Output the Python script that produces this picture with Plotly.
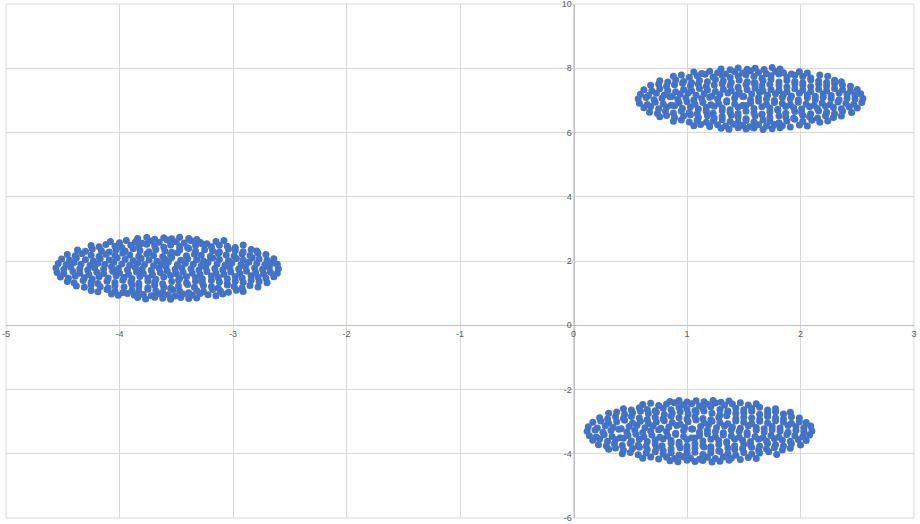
import plotly.graph_objects as go

# ---- Cluster A (left, around x=-3.6, y=1.8) : rows of points ----
cluster_a_x = [
    [-3.84,-3.77,-3.69,-3.62,-3.55,-3.46,-3.39,-3.32],
    [-4.07,-4.01,-3.93,-3.87,-3.79,-3.72,-3.66,-3.57,-3.51,-3.44,-3.36,-3.29,-3.22,-3.15,-3.09],
    [-4.25,-4.19,-4.11,-4.04,-3.97,-3.89,-3.83,-3.75,-3.68,-3.62,-3.53,-3.47,-3.39,-3.32,-3.26,-3.18,-3.11,-3.04,-2.97,-2.91],
    [-4.38,-4.31,-4.25,-4.17,-4.10,-4.04,-3.96,-3.89,-3.83,-3.75,-3.69,-3.61,-3.55,-3.48,-3.40,-3.34,-3.26,-3.19,-3.13,-3.05,-2.99,-2.92,-2.85,-2.78],
    [-4.46,-4.40,-4.32,-4.25,-4.19,-4.11,-4.04,-3.97,-3.90,-3.83,-3.75,-3.69,-3.62,-3.54,-3.48,-3.41,-3.33,-3.27,-3.19,-3.12,-3.05,-2.98,-2.91,-2.84,-2.77,-2.70],
    [-4.52,-4.45,-4.39,-4.31,-4.24,-4.18,-4.10,-4.03,-3.96,-3.89,-3.82,-3.75,-3.68,-3.61,-3.55,-3.47,-3.41,-3.33,-3.27,-3.19,-3.13,-3.05,-2.98,-2.92,-2.84,-2.78,-2.71,-2.64],
    [-4.55,-4.49,-4.41,-4.35,-4.27,-4.20,-4.14,-4.06,-4.00,-3.92,-3.85,-3.79,-3.71,-3.64,-3.58,-3.50,-3.44,-3.36,-3.29,-3.23,-3.15,-3.08,-3.02,-2.94,-2.88,-2.80,-2.73,-2.67,-2.61],
    [-4.56,-4.49,-4.43,-4.35,-4.28,-4.22,-4.14,-4.07,-4.01,-3.93,-3.86,-3.80,-3.72,-3.65,-3.59,-3.51,-3.45,-3.37,-3.30,-3.24,-3.16,-3.09,-3.03,-2.95,-2.89,-2.81,-2.74,-2.68,-2.60],
    [-4.54,-4.47,-4.40,-4.34,-4.26,-4.19,-4.13,-4.05,-3.98,-3.91,-3.84,-3.78,-3.70,-3.63,-3.57,-3.49,-3.42,-3.35,-3.28,-3.22,-3.14,-3.07,-3.01,-2.93,-2.86,-2.79,-2.72,-2.66,-2.61],
    [-4.51,-4.44,-4.38,-4.30,-4.23,-4.17,-4.09,-4.02,-3.95,-3.88,-3.81,-3.74,-3.67,-3.60,-3.54,-3.46,-3.40,-3.32,-3.26,-3.18,-3.12,-3.04,-2.97,-2.91,-2.83,-2.77,-2.70,-2.64],
    [-4.46,-4.39,-4.33,-4.25,-4.18,-4.12,-4.04,-3.97,-3.91,-3.83,-3.76,-3.70,-3.62,-3.55,-3.49,-3.41,-3.34,-3.28,-3.20,-3.13,-3.06,-2.99,-2.92,-2.85,-2.78,-2.71],
    [-4.37,-4.30,-4.24,-4.16,-4.09,-4.03,-3.95,-3.88,-3.82,-3.74,-3.68,-3.60,-3.54,-3.47,-3.39,-3.33,-3.25,-3.18,-3.12,-3.04,-2.98,-2.91,-2.84,-2.79],
    [-4.25,-4.18,-4.12,-4.04,-3.98,-3.90,-3.83,-3.76,-3.69,-3.61,-3.55,-3.47,-3.40,-3.33,-3.27,-3.19,-3.12,-3.05,-2.98,-2.91],
    [-4.08,-4.00,-3.94,-3.86,-3.80,-3.72,-3.65,-3.58,-3.50,-3.43,-3.37,-3.29,-3.23,-3.15,-3.08],
    [-3.84,-3.76,-3.69,-3.61,-3.54,-3.47,-3.39,-3.32],
]
cluster_a_y = [
    [0.86,0.82,0.87,0.84,0.81,0.86,0.83,0.85],
    [0.97,0.93,0.99,0.94,0.96,0.92,0.98,0.95,0.91,0.97,0.93,0.99,0.95,0.92,0.97],
    [1.08,1.04,1.11,1.06,1.02,1.09,1.05,1.12,1.07,1.03,1.10,1.06,1.01,1.08,1.04,1.11,1.06,1.03,1.09,1.05],
    [1.22,1.18,1.25,1.20,1.16,1.23,1.19,1.26,1.21,1.17,1.24,1.19,1.15,1.22,1.27,1.18,1.23,1.20,1.16,1.25,1.21,1.17,1.24,1.19],
    [1.36,1.32,1.39,1.34,1.30,1.37,1.33,1.40,1.35,1.31,1.38,1.34,1.29,1.36,1.41,1.32,1.37,1.33,1.39,1.35,1.30,1.38,1.34,1.40,1.36,1.32],
    [1.50,1.46,1.53,1.48,1.44,1.51,1.47,1.54,1.49,1.45,1.52,1.47,1.43,1.50,1.55,1.46,1.51,1.48,1.44,1.53,1.49,1.45,1.52,1.47,1.54,1.50,1.46,1.51],
    [1.64,1.60,1.67,1.62,1.58,1.65,1.61,1.68,1.63,1.59,1.66,1.61,1.57,1.64,1.69,1.60,1.65,1.62,1.58,1.67,1.63,1.59,1.66,1.61,1.68,1.64,1.60,1.65,1.62],
    [1.78,1.74,1.81,1.76,1.72,1.79,1.75,1.82,1.77,1.73,1.80,1.75,1.71,1.78,1.83,1.74,1.79,1.76,1.72,1.81,1.77,1.73,1.80,1.75,1.82,1.78,1.74,1.79,1.76],
    [1.92,1.88,1.95,1.90,1.86,1.93,1.89,1.96,1.91,1.87,1.94,1.89,1.85,1.92,1.97,1.88,1.93,1.90,1.86,1.95,1.91,1.87,1.94,1.89,1.96,1.92,1.88,1.93,1.90],
    [2.06,2.02,2.09,2.04,2.00,2.07,2.03,2.10,2.05,2.01,2.08,2.03,1.99,2.06,2.11,2.02,2.07,2.04,2.00,2.09,2.05,2.01,2.08,2.03,2.10,2.06,2.02,2.07],
    [2.20,2.16,2.23,2.18,2.14,2.21,2.17,2.24,2.19,2.15,2.22,2.17,2.13,2.20,2.25,2.16,2.21,2.18,2.14,2.23,2.19,2.15,2.22,2.17,2.24,2.20],
    [2.34,2.30,2.37,2.32,2.28,2.35,2.31,2.38,2.33,2.29,2.36,2.31,2.27,2.34,2.39,2.30,2.35,2.32,2.28,2.37,2.33,2.29,2.36,2.31],
    [2.48,2.44,2.51,2.46,2.42,2.49,2.45,2.52,2.47,2.43,2.50,2.45,2.41,2.48,2.53,2.44,2.49,2.46,2.42,2.50],
    [2.61,2.57,2.64,2.59,2.55,2.62,2.58,2.65,2.60,2.56,2.63,2.58,2.54,2.61,2.64],
    [2.70,2.73,2.68,2.72,2.69,2.74,2.70,2.67],
]

# ---- Cluster B (upper right, around x=1.56, y=7.05) ----
cluster_b_x = [
    [1.30,1.37,1.45,1.52,1.59,1.67,1.75,1.82],
    [1.06,1.12,1.20,1.27,1.34,1.41,1.49,1.55,1.63,1.70,1.77,1.84,1.91,1.99,2.06],
    [0.88,0.95,1.02,1.09,1.17,1.23,1.31,1.38,1.45,1.52,1.59,1.67,1.73,1.81,1.88,1.95,2.02,2.10,2.17,2.24],
    [0.76,0.82,0.89,0.97,1.03,1.10,1.18,1.24,1.31,1.39,1.45,1.52,1.60,1.66,1.73,1.81,1.87,1.94,2.02,2.08,2.15,2.22,2.29,2.36],
    [0.67,0.74,0.81,0.88,0.95,1.02,1.09,1.17,1.23,1.31,1.38,1.45,1.52,1.59,1.66,1.73,1.80,1.87,1.95,2.01,2.09,2.16,2.23,2.30,2.37,2.45],
    [0.62,0.68,0.75,0.82,0.89,0.96,1.03,1.10,1.17,1.24,1.31,1.38,1.45,1.52,1.59,1.66,1.73,1.80,1.87,1.94,2.01,2.08,2.15,2.22,2.29,2.36,2.43,2.50],
    [0.58,0.65,0.72,0.79,0.86,0.93,1.00,1.07,1.14,1.21,1.28,1.35,1.42,1.49,1.56,1.63,1.70,1.77,1.84,1.91,1.98,2.05,2.12,2.19,2.26,2.33,2.40,2.47,2.54],
    [0.57,0.64,0.71,0.78,0.85,0.92,0.99,1.06,1.13,1.20,1.27,1.35,1.42,1.49,1.56,1.63,1.70,1.77,1.84,1.91,1.98,2.06,2.13,2.20,2.27,2.34,2.41,2.48,2.55],
    [0.59,0.66,0.73,0.80,0.87,0.94,1.01,1.08,1.15,1.22,1.29,1.36,1.43,1.50,1.57,1.64,1.71,1.78,1.85,1.92,1.99,2.06,2.13,2.20,2.27,2.34,2.41,2.48,2.53],
    [0.62,0.69,0.76,0.83,0.90,0.97,1.04,1.11,1.18,1.25,1.32,1.39,1.46,1.53,1.60,1.67,1.74,1.81,1.88,1.95,2.02,2.09,2.16,2.23,2.30,2.37,2.44,2.50],
    [0.68,0.75,0.82,0.89,0.96,1.03,1.10,1.17,1.24,1.31,1.38,1.45,1.52,1.59,1.66,1.73,1.81,1.88,1.95,2.02,2.09,2.16,2.23,2.30,2.37,2.44],
    [0.76,0.83,0.90,0.97,1.04,1.11,1.18,1.25,1.32,1.39,1.46,1.53,1.60,1.67,1.74,1.81,1.88,1.95,2.02,2.09,2.16,2.23,2.30,2.36],
    [0.88,0.95,1.02,1.09,1.16,1.23,1.31,1.38,1.45,1.52,1.59,1.66,1.74,1.81,1.88,1.95,2.02,2.09,2.17,2.24],
    [1.06,1.13,1.20,1.27,1.34,1.42,1.49,1.56,1.63,1.70,1.78,1.85,1.92,1.99,2.06],
    [1.30,1.38,1.45,1.53,1.60,1.68,1.75,1.82],
]
cluster_b_y = [
    [6.13,6.10,6.15,6.11,6.14,6.09,6.12,6.15],
    [6.21,6.25,6.19,6.24,6.20,6.26,6.22,6.18,6.24,6.20,6.25,6.21,6.17,6.23,6.20],
    [6.35,6.39,6.33,6.38,6.32,6.36,6.40,6.34,6.31,6.37,6.33,6.39,6.35,6.30,6.36,6.41,6.34,6.38,6.32,6.36],
    [6.49,6.53,6.46,6.51,6.55,6.47,6.52,6.45,6.50,6.54,6.48,6.43,6.51,6.56,6.47,6.52,6.48,6.44,6.53,6.49,6.45,6.52,6.47,6.51],
    [6.63,6.59,6.66,6.61,6.67,6.62,6.58,6.65,6.60,6.68,6.63,6.59,6.66,6.61,6.57,6.64,6.69,6.60,6.65,6.62,6.58,6.67,6.63,6.59,6.66,6.62],
    [6.77,6.81,6.74,6.79,6.83,6.75,6.80,6.73,6.78,6.82,6.76,6.71,6.79,6.84,6.75,6.80,6.76,6.72,6.81,6.77,6.73,6.80,6.75,6.82,6.78,6.74,6.79,6.76],
    [6.91,6.87,6.94,6.89,6.85,6.92,6.96,6.88,6.93,6.86,6.90,6.95,6.89,6.84,6.92,6.97,6.88,6.93,6.90,6.86,6.94,6.89,6.85,6.92,6.87,6.95,6.91,6.88,6.93],
    [7.05,7.09,7.02,7.07,7.11,7.03,7.08,7.01,7.06,7.10,7.04,6.99,7.07,7.12,7.03,7.08,7.04,7.00,7.09,7.05,7.01,7.08,7.03,7.10,7.06,7.02,7.07,7.04,7.06],
    [7.19,7.15,7.22,7.17,7.13,7.20,7.24,7.16,7.21,7.14,7.18,7.23,7.17,7.12,7.20,7.25,7.16,7.21,7.18,7.14,7.22,7.17,7.13,7.20,7.15,7.23,7.19,7.16,7.21],
    [7.33,7.29,7.36,7.31,7.27,7.34,7.30,7.37,7.32,7.28,7.35,7.30,7.26,7.33,7.38,7.29,7.34,7.31,7.27,7.36,7.32,7.28,7.35,7.30,7.37,7.33,7.29,7.34],
    [7.47,7.51,7.44,7.49,7.53,7.45,7.50,7.43,7.48,7.52,7.46,7.41,7.49,7.54,7.45,7.50,7.46,7.42,7.51,7.47,7.43,7.50,7.45,7.52,7.48,7.44],
    [7.61,7.57,7.64,7.59,7.55,7.62,7.58,7.65,7.60,7.56,7.63,7.58,7.54,7.61,7.66,7.57,7.62,7.59,7.55,7.64,7.60,7.56,7.63,7.58],
    [7.75,7.79,7.72,7.77,7.81,7.73,7.78,7.71,7.76,7.80,7.74,7.69,7.77,7.82,7.73,7.78,7.74,7.70,7.79,7.75],
    [7.88,7.84,7.91,7.86,7.82,7.89,7.85,7.92,7.87,7.83,7.90,7.86,7.82,7.89,7.85],
    [7.98,7.95,8.01,7.97,8.00,7.96,8.02,7.98],
]

# ---- Cluster C (lower right, around x=1.11, y=-3.3) ----
cluster_c_x = [
    [0.85,0.92,1.00,1.07,1.14,1.22,1.29,1.37],
    [0.61,0.68,0.75,0.82,0.89,0.96,1.03,1.11,1.18,1.25,1.32,1.39,1.47,1.54,1.61],
    [0.43,0.50,0.57,0.64,0.72,0.79,0.86,0.93,1.00,1.07,1.14,1.21,1.29,1.36,1.43,1.50,1.57,1.64,1.72,1.79],
    [0.31,0.37,0.44,0.52,0.58,0.65,0.73,0.79,0.86,0.94,1.00,1.07,1.15,1.21,1.28,1.36,1.42,1.49,1.57,1.63,1.70,1.77,1.84,1.91],
    [0.22,0.29,0.36,0.43,0.50,0.57,0.64,0.72,0.78,0.86,0.93,1.00,1.07,1.14,1.21,1.28,1.35,1.42,1.50,1.56,1.64,1.71,1.78,1.85,1.92,2.00],
    [0.17,0.23,0.30,0.37,0.44,0.51,0.58,0.65,0.72,0.79,0.86,0.93,1.00,1.07,1.14,1.21,1.28,1.35,1.42,1.49,1.56,1.63,1.70,1.77,1.84,1.91,1.98,2.05],
    [0.14,0.20,0.27,0.34,0.41,0.48,0.55,0.62,0.69,0.76,0.83,0.90,0.97,1.04,1.11,1.18,1.25,1.32,1.39,1.46,1.53,1.60,1.67,1.74,1.81,1.88,1.95,2.02,2.08],
    [0.12,0.19,0.26,0.33,0.40,0.47,0.54,0.61,0.68,0.75,0.82,0.90,0.97,1.04,1.11,1.18,1.25,1.32,1.39,1.46,1.53,1.61,1.68,1.75,1.82,1.89,1.96,2.03,2.10],
    [0.13,0.21,0.28,0.35,0.42,0.49,0.56,0.63,0.70,0.77,0.84,0.91,0.98,1.05,1.12,1.19,1.26,1.33,1.40,1.47,1.54,1.61,1.68,1.75,1.82,1.89,1.96,2.03,2.09],
    [0.17,0.24,0.31,0.38,0.45,0.52,0.59,0.66,0.73,0.80,0.87,0.94,1.01,1.08,1.15,1.22,1.29,1.36,1.43,1.50,1.57,1.64,1.71,1.78,1.85,1.92,1.99,2.05],
    [0.23,0.30,0.37,0.44,0.51,0.58,0.65,0.72,0.79,0.86,0.93,1.00,1.07,1.14,1.21,1.28,1.35,1.43,1.50,1.57,1.64,1.71,1.78,1.85,1.92,1.99],
    [0.31,0.38,0.45,0.52,0.59,0.66,0.73,0.80,0.87,0.94,1.01,1.08,1.15,1.22,1.29,1.36,1.43,1.50,1.57,1.64,1.71,1.78,1.85,1.91],
    [0.44,0.51,0.58,0.65,0.72,0.79,0.86,0.93,1.00,1.07,1.14,1.21,1.29,1.36,1.43,1.50,1.57,1.64,1.71,1.78],
    [0.61,0.68,0.75,0.82,0.89,0.97,1.04,1.11,1.18,1.25,1.33,1.40,1.47,1.54,1.61],
    [0.85,0.93,1.00,1.08,1.15,1.23,1.30,1.37],
]
cluster_c_y = [
    [-4.22,-4.25,-4.20,-4.24,-4.21,-4.26,-4.23,-4.20],
    [-4.14,-4.10,-4.16,-4.11,-4.15,-4.09,-4.13,-4.17,-4.11,-4.15,-4.10,-4.14,-4.18,-4.12,-4.15],
    [-4.00,-3.96,-4.03,-3.98,-3.94,-4.01,-3.97,-4.04,-3.99,-3.95,-4.02,-3.97,-3.93,-4.00,-4.05,-3.96,-4.01,-3.98,-3.94,-4.02],
    [-3.86,-3.82,-3.89,-3.84,-3.80,-3.87,-3.83,-3.90,-3.85,-3.81,-3.88,-3.83,-3.79,-3.86,-3.91,-3.82,-3.87,-3.84,-3.80,-3.89,-3.85,-3.81,-3.88,-3.83],
    [-3.72,-3.76,-3.69,-3.74,-3.68,-3.73,-3.77,-3.70,-3.75,-3.67,-3.72,-3.76,-3.69,-3.74,-3.78,-3.71,-3.66,-3.75,-3.70,-3.73,-3.77,-3.68,-3.72,-3.76,-3.69,-3.73],
    [-3.58,-3.54,-3.61,-3.56,-3.52,-3.60,-3.55,-3.62,-3.57,-3.53,-3.59,-3.64,-3.56,-3.51,-3.60,-3.55,-3.59,-3.63,-3.54,-3.58,-3.62,-3.55,-3.60,-3.53,-3.57,-3.61,-3.56,-3.59],
    [-3.44,-3.48,-3.41,-3.46,-3.50,-3.43,-3.39,-3.47,-3.42,-3.49,-3.45,-3.40,-3.46,-3.51,-3.43,-3.38,-3.47,-3.42,-3.45,-3.49,-3.41,-3.46,-3.50,-3.43,-3.48,-3.40,-3.44,-3.47,-3.42],
    [-3.30,-3.26,-3.33,-3.28,-3.24,-3.32,-3.27,-3.34,-3.29,-3.25,-3.31,-3.36,-3.28,-3.23,-3.32,-3.27,-3.31,-3.35,-3.26,-3.30,-3.34,-3.27,-3.32,-3.25,-3.29,-3.33,-3.28,-3.31,-3.29],
    [-3.16,-3.20,-3.13,-3.18,-3.22,-3.15,-3.11,-3.19,-3.14,-3.21,-3.17,-3.12,-3.18,-3.23,-3.15,-3.10,-3.19,-3.14,-3.17,-3.21,-3.13,-3.18,-3.22,-3.15,-3.20,-3.12,-3.16,-3.19,-3.14],
    [-3.02,-2.98,-3.05,-3.00,-2.96,-3.04,-2.99,-3.06,-3.01,-2.97,-3.03,-3.08,-3.00,-2.95,-3.04,-2.99,-3.03,-3.07,-2.98,-3.02,-3.06,-2.99,-3.04,-2.97,-3.01,-3.05,-3.00,-3.03],
    [-2.88,-2.92,-2.85,-2.90,-2.84,-2.89,-2.93,-2.86,-2.91,-2.83,-2.88,-2.92,-2.85,-2.90,-2.94,-2.87,-2.82,-2.91,-2.86,-2.89,-2.93,-2.84,-2.88,-2.92,-2.85,-2.89],
    [-2.74,-2.70,-2.77,-2.72,-2.68,-2.75,-2.71,-2.78,-2.73,-2.69,-2.76,-2.71,-2.67,-2.74,-2.79,-2.70,-2.75,-2.72,-2.68,-2.77,-2.73,-2.69,-2.76,-2.71],
    [-2.60,-2.64,-2.57,-2.62,-2.66,-2.58,-2.63,-2.56,-2.61,-2.65,-2.59,-2.54,-2.62,-2.67,-2.58,-2.63,-2.59,-2.55,-2.64,-2.60],
    [-2.47,-2.43,-2.50,-2.45,-2.41,-2.48,-2.44,-2.51,-2.46,-2.42,-2.49,-2.45,-2.41,-2.48,-2.44],
    [-2.37,-2.34,-2.39,-2.35,-2.38,-2.34,-2.40,-2.36],
]

x_tick_values = [-5, -4, -3, -2, -1, 0, 1, 2, 3]
y_tick_values = [-6, -4, -2, 0, 2, 4, 6, 8, 10]
x_range = [-5, 3]
y_range = [-6, 10]


def flatten(rows_x, rows_y):
    xs, ys = [], []
    for rx, ry in zip(rows_x, rows_y):
        for a, b in zip(rx, ry):
            xs.append(a)
            ys.append(b)
    return xs, ys


all_x, all_y = [], []
for cx_rows, cy_rows in [(cluster_a_x, cluster_a_y), (cluster_b_x, cluster_b_y), (cluster_c_x, cluster_c_y)]:
    xs, ys = flatten(cx_rows, cy_rows)
    all_x += xs
    all_y += ys

fig = go.Figure()
fig.add_trace(go.Scatter(
    x=all_x, y=all_y, mode="markers",
    marker=dict(color="#4472C4", size=7, line=dict(width=0)),
    showlegend=False, hoverinfo="skip", cliponaxis=False,
))

# paper-fraction where each axis crosses zero
x_axis_pos = (0 - y_range[0]) / (y_range[1] - y_range[0])
y_axis_pos = (0 - x_range[0]) / (x_range[1] - x_range[0])

grid_color = "#d9d9d9"
axis_font = dict(family="Liberation Sans, Arial, sans-serif", size=9, color="#595959")
fig.update_layout(
    width=920, height=524,
    margin=dict(l=6, r=6, t=4, b=6, autoexpand=False),
    paper_bgcolor="white", plot_bgcolor="white",
    xaxis=dict(
        range=x_range, tickvals=x_tick_values, ticktext=[str(v) for v in x_tick_values],
        showgrid=True, gridcolor=grid_color, gridwidth=1,
        zeroline=False, showline=True, linecolor="#bfbfbf", linewidth=1,
        anchor="free", position=x_axis_pos, ticks="", tickfont=axis_font,
        automargin=False, ticklabeloverflow="allow",
    ),
    yaxis=dict(
        range=y_range, tickvals=y_tick_values, ticktext=[str(v) for v in y_tick_values],
        showgrid=True, gridcolor=grid_color, gridwidth=1,
        zeroline=False, showline=True, linecolor="#bfbfbf", linewidth=1,
        anchor="free", position=y_axis_pos, ticks="", tickfont=axis_font,
        automargin=False, ticklabeloverflow="allow",
    ),
    shapes=[dict(type="rect", xref="paper", yref="paper", x0=0, x1=1, y0=0, y1=1,
                 line=dict(color=grid_color, width=1), layer="below")],
)
fig.write_html("out.html", config={"displayModeBar": False},
               post_script="document.body.style.margin='0';")
